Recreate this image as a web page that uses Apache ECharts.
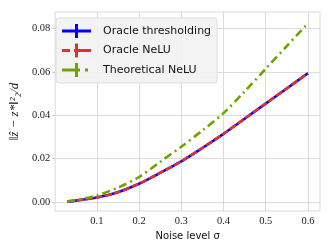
<!DOCTYPE html>
<html>
<head>
<meta charset="utf-8">
<script src="https://cdn.jsdelivr.net/npm/echarts@6/dist/echarts.min.js"></script>
<style>
html,body{margin:0;padding:0;background:#fff;}
#chart{width:332px;height:249px;}
</style>
</head>
<body>
<div id="chart"></div>
<script>
const sigma = [0.03, 0.05, 0.1, 0.15, 0.2, 0.25, 0.3, 0.35, 0.4, 0.45, 0.5, 0.55, 0.6];
const oracleThresholding = [0.0002, 0.0006, 0.002, 0.0045, 0.0084, 0.0134, 0.0187, 0.0249, 0.0314, 0.0384, 0.0454, 0.0524, 0.0594];
const oracleNeLU = [0.0002, 0.0006, 0.002, 0.0045, 0.0085, 0.0135, 0.0188, 0.025, 0.0315, 0.0385, 0.0455, 0.0525, 0.0595];
const theoreticalNeLU = [0.0003, 0.0008, 0.003, 0.0066, 0.0115, 0.0185, 0.0255, 0.033, 0.041, 0.051, 0.0615, 0.072, 0.0825];
const xTicks = [0.1, 0.2, 0.3, 0.4, 0.5, 0.6];
const yTicks = [0, 0.02, 0.04, 0.06, 0.08];
const seriesNames = ['Oracle thresholding', 'Oracle NeLU', 'Theoretical NeLU'];

const pairs = arr => sigma.map((s, i) => [s, arr[i]]);

const iconBlue = 'path://M0,5.5H29V8.5H0Z M13,0H16V14H13Z';
const iconRed = 'path://M0,5.5H8V8.5H0Z M12,5.5H29V8.5H12Z M13,0H16V14H13Z';
const iconGreen = 'path://M0,5.5H18V8.5H0Z M13,0H16V14H13Z M23,5.5H26V8.5H23Z M0,14H0.01V14.01H0Z M28.99,0H29V0.01H28.99Z';

const chart = echarts.init(document.getElementById('chart'), null, {renderer: 'canvas'});
chart.setOption({
  animation: false,
  backgroundColor: '#ffffff',
  grid: {left: 49, right: 12, top: 12, bottom: 38, show: true, borderColor: '#e6e6e6', borderWidth: 1.5, backgroundColor: 'transparent'},
  xAxis: {
    type: 'value', min: 0.0015, max: 0.6285,
    name: 'Noise level σ', nameLocation: 'middle', nameGap: 19,
    nameTextStyle: {fontFamily: 'DejaVu Sans', fontSize: 10, color: '#111'},
    axisLine: {show: false},
    axisTick: {show: true, length: 3, lineStyle: {color: '#cfcfcf', width: 1}, customValues: xTicks},
    axisLabel: {customValues: xTicks, margin: 5, fontFamily: 'Liberation Serif', fontSize: 10.5, color: '#222', formatter: v => v.toFixed(1)},
    splitLine: {show: true, lineStyle: {color: '#dcdcdc', width: 1}}
  },
  yAxis: {
    type: 'value', min: -0.0042, max: 0.0877,
    name: '‖ẑ − z*‖²₂/d', nameLocation: 'middle', nameGap: 28, nameRotate: 90,
    nameTextStyle: {fontFamily: 'Liberation Serif', fontStyle: 'italic', fontSize: 13, color: '#111'},
    axisLine: {show: false},
    axisTick: {show: true, length: 3, lineStyle: {color: '#cfcfcf', width: 1}, customValues: yTicks},
    axisLabel: {customValues: yTicks, margin: 5, fontFamily: 'Liberation Serif', fontSize: 10.5, color: '#222', formatter: v => v.toFixed(2)},
    splitLine: {show: true, lineStyle: {color: '#dcdcdc', width: 1}}
  },
  legend: {
    orient: 'vertical', left: 56, top: 18,
    itemWidth: 29, itemHeight: 14, itemGap: 5.5,
    padding: [6, 6, 6, 6],
    backgroundColor: 'rgba(242,242,242,0.9)', borderColor: '#dddddd', borderWidth: 1, borderRadius: 3,
    textStyle: {fontFamily: 'DejaVu Sans', fontSize: 11, color: '#111', padding: [0, 0, 0, 7]},
    data: [
      {name: seriesNames[0], icon: iconBlue, itemStyle: {color: '#0000ff', borderWidth: 0}},
      {name: seriesNames[1], icon: iconRed, itemStyle: {color: '#e3302f', borderWidth: 0}},
      {name: seriesNames[2], icon: iconGreen, itemStyle: {color: '#6fa300', borderWidth: 0}}
    ]
  },
  series: [
    {name: seriesNames[0], type: 'line', data: pairs(oracleThresholding), showSymbol: false, symbol: 'none', smooth: 0.3, color: '#0000ff',
     lineStyle: {color: '#0000ff', width: 2.6, type: 'solid'}, z: 2},
    {name: seriesNames[1], type: 'line', data: pairs(oracleNeLU), showSymbol: false, symbol: 'none', smooth: 0.3, color: '#e3302f',
     lineStyle: {color: '#e3302f', width: 2.6, type: [7, 2.5], cap: 'butt'}, z: 3},
    {name: seriesNames[2], type: 'line', data: pairs(theoreticalNeLU), showSymbol: false, symbol: 'none', smooth: 0.3, color: '#6fa300',
     lineStyle: {color: '#6fa300', width: 2.6, type: [8, 4, 2, 4], cap: 'butt'}, z: 4}
  ]
});
</script>
</body>
</html>
